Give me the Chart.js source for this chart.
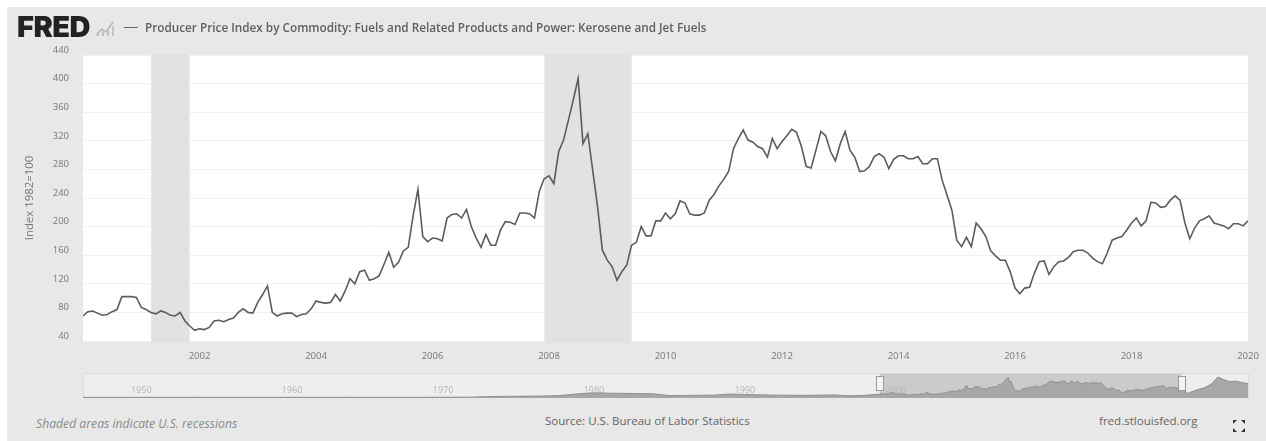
<!DOCTYPE html>
<html>
<head>
<meta charset="utf-8">
<title>Kerosene and Jet Fuels PPI</title>
<script src="https://cdn.jsdelivr.net/npm/chart.js@4"></script>
<style>
  html, body { margin: 0; padding: 0; background: #fff; }
  #page { position: relative; width: 1266px; height: 441px; overflow: hidden; }
  #panel { position: absolute; left: 7px; top: 7px; right: 0; bottom: 0; background: #e8e8e8; }
  canvas { position: absolute; left: 0; }
  .txt { position: absolute; white-space: nowrap; font-family: "Open Sans", sans-serif; color: #666; }
  #logo { left: 17px; top: 12px; font: 900 29px/30px Inter, sans-serif; color: #222; letter-spacing: -0.5px; }
  #legendLine { position: absolute; left: 124px; top: 27px; width: 14px; height: 1px; background: #666; }
  #seriesTitle { left: 145px; top: 19px; font-size: 11.75px; line-height: 16px; font-weight: 600; color: #5f5f5f; }
  #shaded { left: 36px; top: 416px; font-size: 12.2px; line-height: 16px; font-style: italic; color: #8a8a8a; }
  #source { left: 545px; top: 413px; font-size: 11.55px; line-height: 16px; color: #666; }
  #site { left: 1099px; top: 413px; font-size: 11.55px; line-height: 16px; color: #666; }
  svg { position: absolute; }
</style>
</head>
<body>
<div id="page">
  <div id="panel"></div>
  <canvas id="mainChart" width="1266" height="368" style="top:0"></canvas>
  <canvas id="navChart" width="1266" height="40" style="top:368px"></canvas>
  <div class="txt" id="logo">FRED</div>
  <svg style="left:94px;top:18px" width="24" height="20" viewBox="0 0 24 20">
    <path d="M2 17 L8 11 L12 14 L19 4" fill="none" stroke="#b5b5b5" stroke-width="1.5"/>
    <path d="M4 18 V15 M9 18 V13 M14 18 V12 M19 18 V8" stroke="#c4c4c4" stroke-width="2"/>
  </svg>
  <div id="legendLine"></div>
  <div class="txt" id="seriesTitle">Producer Price Index by Commodity: Fuels and Related Products and Power: Kerosene and Jet Fuels</div>
  <div class="txt" id="shaded">Shaded areas indicate U.S. recessions</div>
  <div class="txt" id="source">Source: U.S. Bureau of Labor Statistics</div>
  <div class="txt" id="site">fred.stlouisfed.org</div>
  <svg style="left:1232px;top:419px" width="14" height="14" viewBox="0 0 14 14" fill="#333">
    <path d="M1 1h4L1 5zM13 1v4L9 1zM1 13V9L5 13zM13 13H9L13 9z"/>
  </svg>
</div>

<script>
// monthly values, Jan 2000 to Jan 2020
const startYear = 2000;
const keroseneIndex = [
  75, 81, 82, 79, 76, 77, 81, 84, 102, 102, 102, 101,
  87, 84, 80, 78, 82, 80, 76, 75, 80, 68, 61, 55,
  57, 56, 59, 68, 69, 67, 70, 72, 80, 85, 80, 79,
  94, 105, 117, 80, 75, 78, 79, 79, 74, 77, 78, 85,
  96, 94, 93, 94, 105, 96, 110, 127, 120, 137, 139, 125,
  127, 131, 147, 164, 143, 150, 166, 171, 215, 252, 186, 179,
  184, 183, 180, 212, 217, 218, 212, 224, 200, 184, 171, 189,
  174, 174, 195, 207, 206, 203, 219, 219, 218, 212, 249, 267,
  271, 260, 305, 321, 349, 377, 407, 316, 330, 279, 228, 167,
  153, 144, 125, 137, 146, 174, 178, 200, 187, 187, 208, 208,
  219, 211, 218, 236, 233, 218, 216, 216, 219, 237, 245, 257,
  266, 277, 309, 323, 335, 321, 318, 312, 309, 297, 323, 309,
  319, 327, 336, 332, 312, 284, 282, 307, 333, 327, 305, 292,
  316, 333, 307, 297, 277, 278, 284, 298, 302, 297, 281, 294,
  299, 299, 295, 295, 298, 288, 288, 295, 295, 265, 244, 223,
  181, 172, 185, 172, 205, 197, 186, 166, 159, 153, 153, 137,
  114, 106, 114, 115, 135, 151, 152, 133, 144, 151, 152, 157,
  165, 167, 167, 163, 156, 151, 148, 163, 181, 184, 186, 195,
  205, 212, 201, 208, 234, 233, 227, 228, 237, 243, 237, 205,
  183, 198, 208, 211, 215, 205, 203, 201, 197, 204, 204, 201,
  208
];

const recessionStarts = [2001.17, 2007.92];
const recessionEnds = [2001.83, 2009.42];
const yTicksMin = 40;
const yTicksMax = 440;
const xTicksMin = 2000;
const xTicksMax = 2020;

// navigator, full history outside of the monthly part above
const earlyYears = [1947.2, 1950, 1955, 1960, 1965, 1970, 1973, 1974, 1976, 1978, 1979, 1980, 1981, 1983, 1985, 1986, 1987, 1989, 1990, 1991, 1993, 1995, 1997, 1998, 1999];
const earlyValues = [12, 13, 14, 14, 14, 14, 17, 28, 34, 40, 52, 82, 100, 90, 82, 48, 50, 56, 78, 70, 56, 52, 60, 42, 52];
const lateYears = [2020.4, 2021, 2021.5, 2022, 2022.4, 2022.8, 2023.2, 2023.6, 2024.4];
const lateValues = [90, 160, 200, 280, 410, 360, 320, 330, 280];
const navDecades = [1950, 1960, 1970, 1980, 1990, 2000];

const monthlyPoints = keroseneIndex.map((v, i) => ({ x: startYear + i / 12, y: v }));
const navPoints = [
  ...earlyYears.map((yr, i) => ({ x: yr, y: earlyValues[i] })),
  ...monthlyPoints,
  ...lateYears.map((yr, i) => ({ x: yr, y: lateValues[i] })),
];

Chart.defaults.font.family = '"Open Sans", sans-serif';
Chart.defaults.animation = false;

// white plot background
const plotBackground = {
  id: 'plotBackground',
  beforeDraw(chart) {
    const { ctx, chartArea: a } = chart;
    ctx.fillStyle = '#fff';
    ctx.fillRect(a.left, a.top, a.width, a.height);
  },
};

// grey recession bands
const recessionBands = {
  id: 'recessionBands',
  beforeDatasetsDraw(chart) {
    const { ctx, chartArea: a, scales } = chart;
    ctx.fillStyle = '#e2e2e2';
    recessionStarts.forEach((s, i) => {
      const x0 = scales.x.getPixelForValue(s);
      const x1 = scales.x.getPixelForValue(recessionEnds[i]);
      ctx.fillRect(x0, a.top - 1, x1 - x0, a.height + 3);
    });
  },
};

new Chart(document.getElementById('mainChart'), {
  type: 'line',
  data: {
    datasets: [{
      data: monthlyPoints,
      borderColor: '#5c5c5c',
      borderWidth: 1.6,
      pointRadius: 0,
      tension: 0,
      fill: false,
    }],
  },
  options: {
    responsive: false,
    layout: { padding: { left: 0, top: 55, right: 18, bottom: 0 } },
    plugins: { legend: { display: false }, tooltip: { enabled: false } },
    scales: {
      x: {
        type: 'linear',
        min: xTicksMin,
        max: xTicksMax,
        afterFit(s) { s.height = 27; s.paddingLeft = 0; s.paddingRight = 0; },
        grid: { display: false, drawTicks: false },
        border: { display: false },
        ticks: {
          stepSize: 2,
          maxRotation: 0,
          padding: 10,
          color: '#777',
          font: { size: 9.5 },
          // the first year has no label in the original
          callback: v => (v === xTicksMin ? '' : String(v)),
        },
      },
      y: {
        min: yTicksMin,
        max: yTicksMax,
        afterFit(s) { s.width = 83; },
        grid: { color: '#f1f1f1', lineWidth: 1, drawTicks: false },
        border: { display: false },
        title: {
          display: true,
          text: 'Index 1982=100',
          color: '#777',
          font: { size: 11.4 },
          padding: { top: 23, bottom: 0 },
        },
        ticks: {
          stepSize: 40,
          padding: 14,
          labelOffset: -5,
          color: '#777',
          font: { size: 9.5 },
        },
      },
    },
  },
  plugins: [plotBackground, recessionBands],
});

// navigator mask and handles
const navMask = {
  id: 'navMask',
  beforeDraw(chart) {
    const { ctx, chartArea: a, scales } = chart;
    const x0 = scales.x.getPixelForValue(xTicksMin);
    const x1 = scales.x.getPixelForValue(xTicksMax);
    ctx.fillStyle = '#eeeeee';
    ctx.fillRect(a.left, a.top, a.width, a.height);
    ctx.fillStyle = '#cbcbcb';
    ctx.fillRect(x0, a.top, x1 - x0, a.height);
    ctx.strokeStyle = '#dcdcdc';
    ctx.strokeRect(a.left + 0.5, a.top - 0.5, a.width, a.height);
  },
  afterDatasetsDraw(chart) {
    const { ctx, chartArea: a, scales } = chart;
    ctx.fillStyle = '#f4f4f4';
    ctx.strokeStyle = '#999';
    [xTicksMin, xTicksMax].forEach(v => {
      const x = Math.round(scales.x.getPixelForValue(v));
      ctx.fillRect(x - 3.5, a.top + 2.5, 7, 14);
      ctx.strokeRect(x - 3.5, a.top + 2.5, 7, 14);
    });
  },
};

new Chart(document.getElementById('navChart'), {
  type: 'line',
  data: {
    datasets: [{
      data: navPoints,
      borderColor: '#909090',
      borderWidth: 1,
      backgroundColor: '#a7a7a7',
      pointRadius: 0,
      tension: 0,
      fill: 'origin',
    }],
  },
  options: {
    responsive: false,
    layout: { padding: { left: 0, top: 6, right: 18, bottom: 10 } },
    plugins: { legend: { display: false }, tooltip: { enabled: false } },
    scales: {
      x: {
        type: 'linear',
        min: earlyYears[0],
        max: lateYears[lateYears.length - 1],
        afterFit(s) { s.height = 0; s.paddingLeft = 0; s.paddingRight = 0; },
        afterBuildTicks(s) { s.ticks = navDecades.map(v => ({ value: v })); },
        grid: { display: false, drawTicks: false },
        border: { display: false },
        ticks: {
          autoSkip: false,
          maxRotation: 0,
          // mirror keeps the labels out of the clip of a zero-height axis
          mirror: true,
          padding: 2,
          labelOffset: 16,
          color: '#b5b5b5',
          font: { size: 9 },
          callback: v => String(v),
        },
      },
      y: {
        min: 0,
        max: 470,
        display: false,
        afterFit(s) { s.width = 83; },
      },
    },
  },
  plugins: [navMask],
});
</script>
</body>
</html>
